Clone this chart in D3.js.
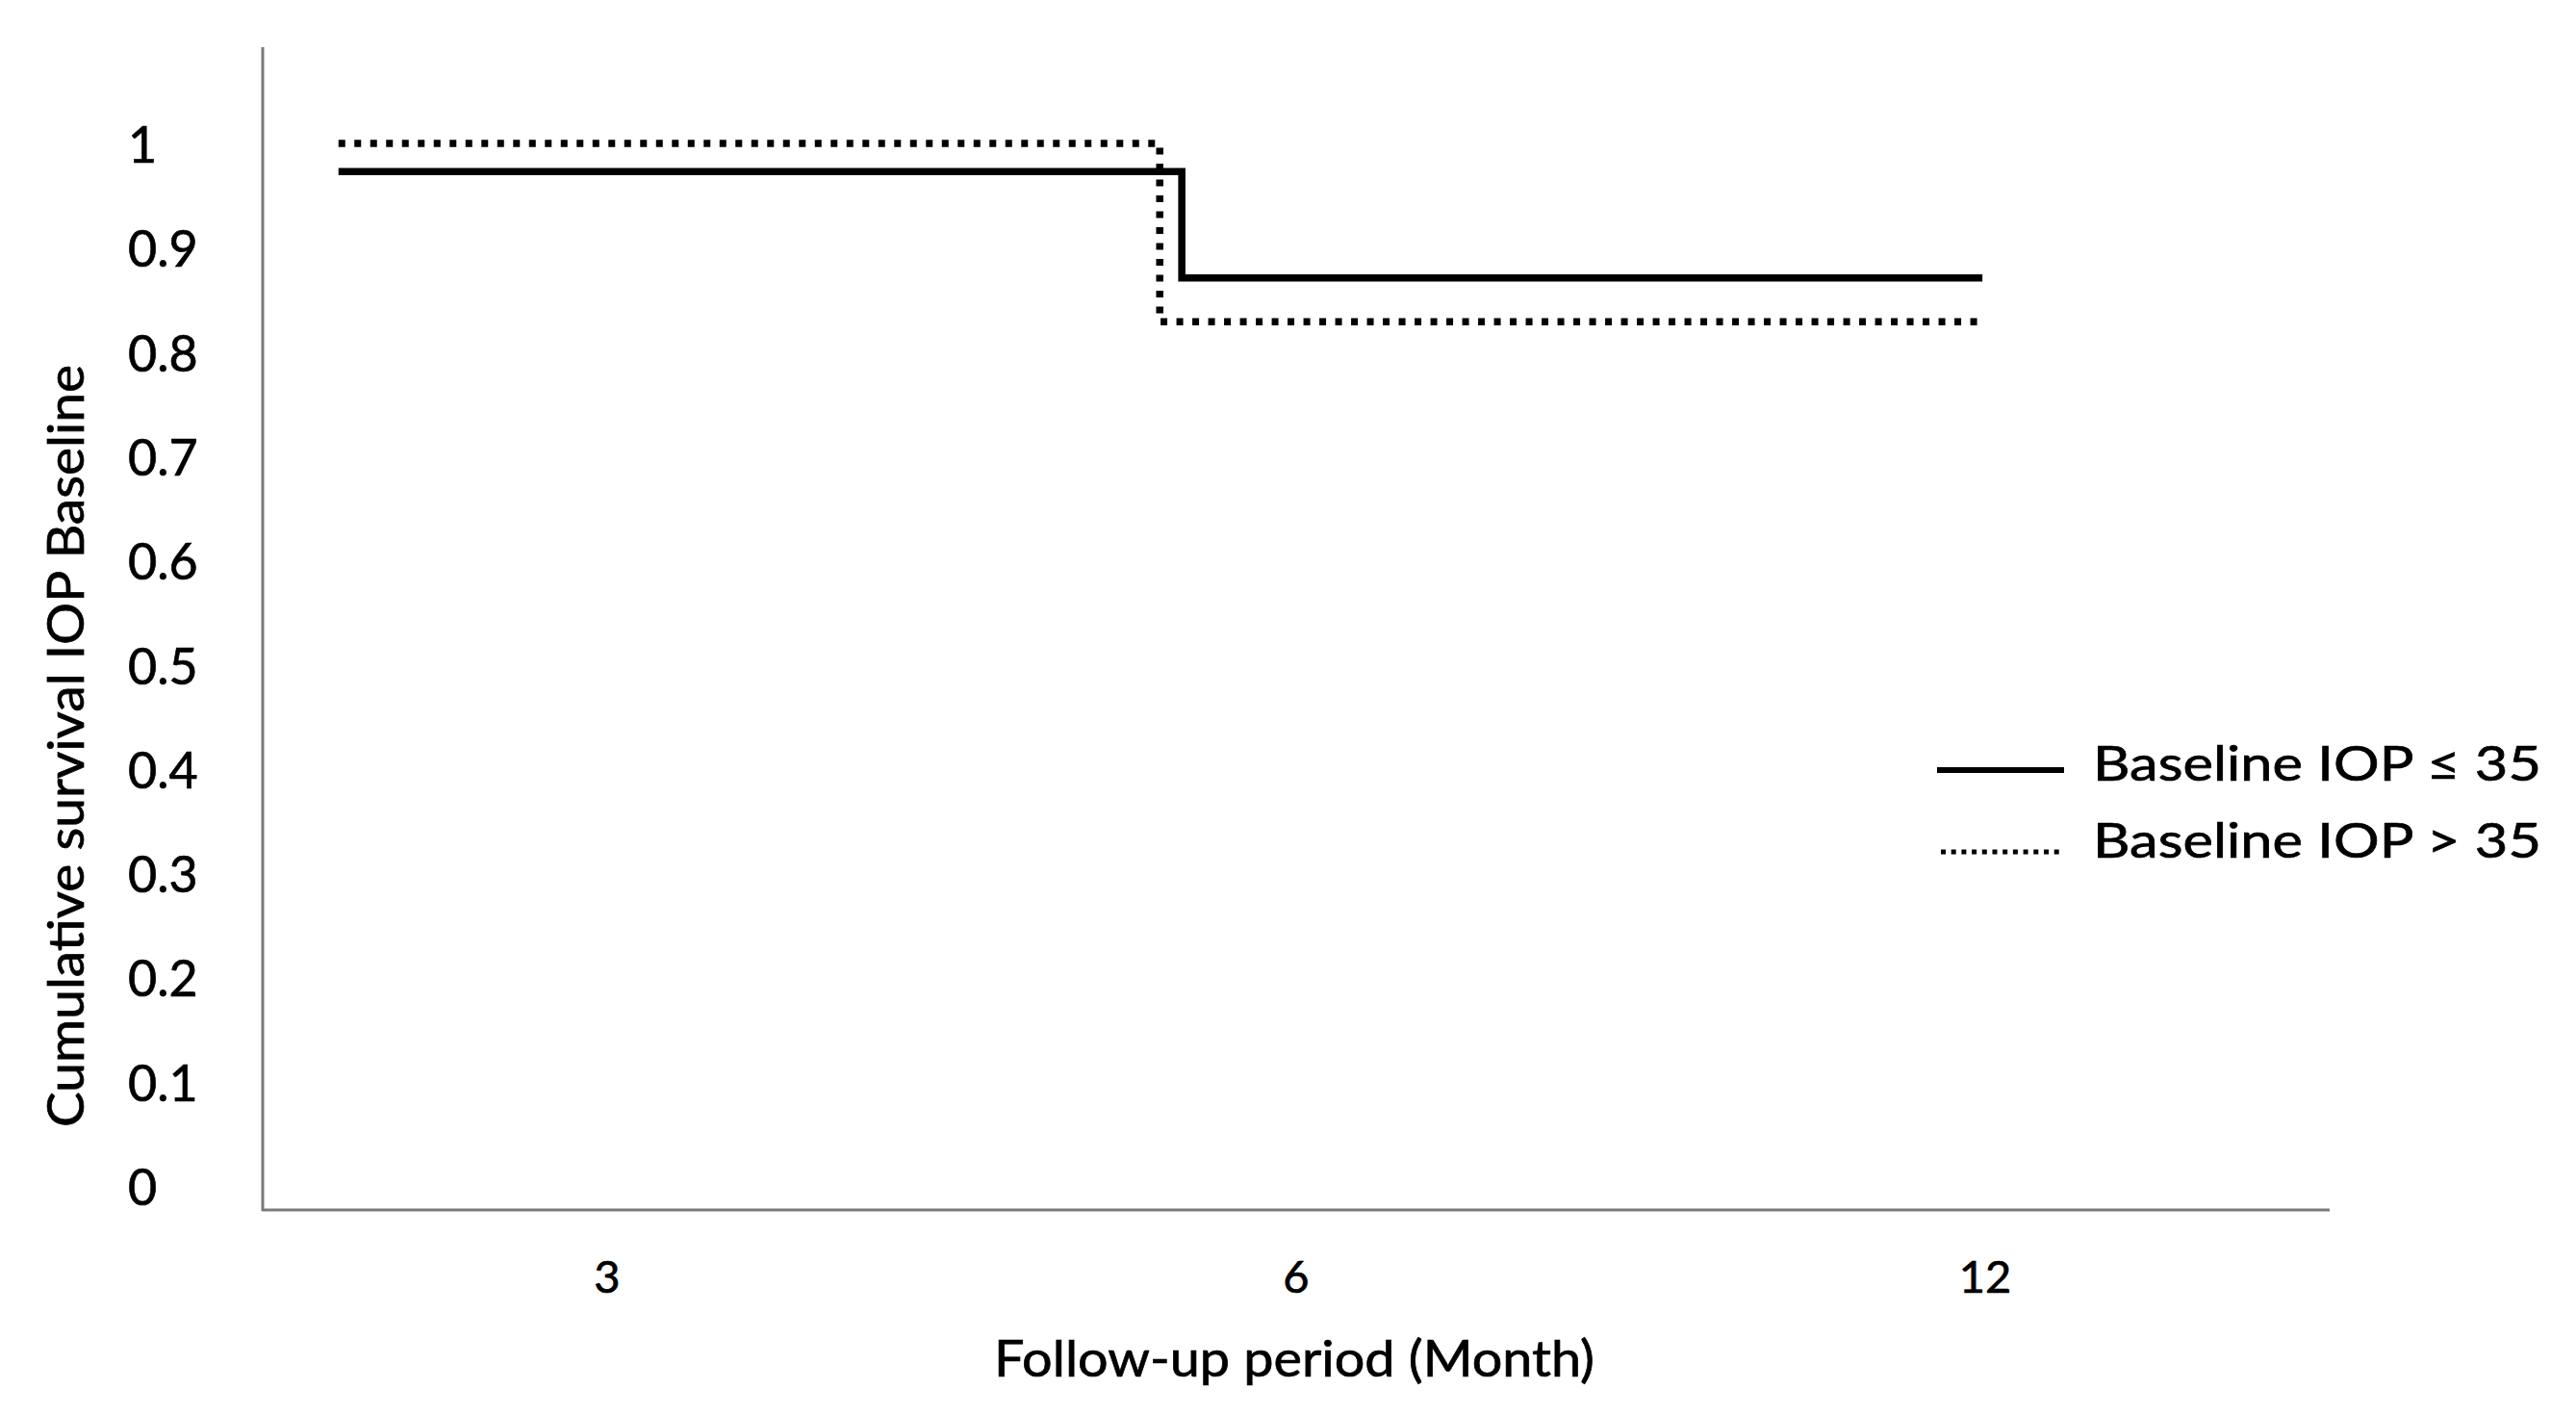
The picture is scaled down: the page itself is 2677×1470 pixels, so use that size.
<!DOCTYPE html>
<html>
<head>
<meta charset="utf-8">
<script src="https://cdn.jsdelivr.net/npm/d3@7"></script>
<style>
  html, body { margin: 0; padding: 0; background: #fff; }
  svg { display: block; }
  text { font-family: Lato, "Open Sans", sans-serif; fill: #000; stroke: #000; stroke-width: 0.7px; }
</style>
</head>
<body>
<svg id="chart" width="2677" height="1470"></svg>
<script>
// ---- data ----
const months = ["3", "6", "12"];
const yTicks = [0, 0.1, 0.2, 0.3, 0.4, 0.5, 0.6, 0.7, 0.8, 0.9, 1];
const yTickLabels = ["0", "0.1", "0.2", "0.3", "0.4", "0.5", "0.6", "0.7", "0.8", "0.9", "1"];
// step curves: position along the category axis (0..3 slots) and survival
const lowTimes = [0.11, 1.334, 2.496];
const lowSurvival = [0.973, 0.871, 0.871];
const highTimes = [0.11, 1.302, 2.496];
const highSurvival = [1.0, 0.829, 0.829];
const seriesNames = ["Baseline IOP \u2264 35", "Baseline IOP > 35"];
const xTitle = "Follow-up period (Month)";
const yTitle = "Cumulative survival IOP Baseline";

// ---- layout ----
const svg = d3.select("#chart");
const plotLeft = 273, plotRight = 2421, plotTop = 49, axisY = 1257;

const xBand = d3.scaleBand().domain(months).range([plotLeft, plotRight]).padding(0);
const xPos = d3.scaleLinear().domain([0, months.length]).range([plotLeft, plotRight]);
const y = d3.scaleLinear().domain([0, 1]).range([1232, 149]);

// axes lines
svg.append("line").attr("x1", plotLeft).attr("x2", plotLeft).attr("y1", plotTop).attr("y2", axisY + 1)
  .attr("stroke", "#7a7a7a").attr("stroke-width", 3);
svg.append("line").attr("x1", plotLeft - 1).attr("x2", plotRight).attr("y1", axisY).attr("y2", axisY)
  .attr("stroke", "#7a7a7a").attr("stroke-width", 3);

// y tick labels
svg.append("g").selectAll("text").data(yTicks).join("text")
  .attr("x", 133).attr("y", d => y(d))
  .attr("dominant-baseline", "central")
  .attr("font-size", 52)
  .text((d, i) => yTickLabels[i]);

// x tick labels
svg.append("g").selectAll("text").data(months).join("text")
  .attr("x", d => xBand(d) + xBand.bandwidth() / 2).attr("y", 1325)
  .attr("text-anchor", "middle").attr("dominant-baseline", "central")
  .attr("font-size", 47)
  .text(d => d);

// axis titles
svg.append("text").attr("x", 1033).attr("y", 1410)
  .attr("dominant-baseline", "central")
  .attr("font-size", 52)
  .attr("textLength", 624).attr("lengthAdjust", "spacingAndGlyphs")
  .text(xTitle);
svg.append("text").attr("transform", "translate(67,1171) rotate(-90)")
  .attr("dominant-baseline", "central")
  .attr("font-size", 52)
  .attr("textLength", 792).attr("lengthAdjust", "spacingAndGlyphs")
  .text(yTitle);

// curves
const step = d3.line().x(d => xPos(d.t)).y(d => y(d.s)).curve(d3.curveStepAfter);
const lowData = lowTimes.map((t, i) => ({ t, s: lowSurvival[i] }));
const highData = highTimes.map((t, i) => ({ t, s: highSurvival[i] }));

svg.append("path").datum(highData).attr("d", step)
  .attr("fill", "none").attr("stroke", "#000").attr("stroke-width", 7.5)
  .attr("stroke-dasharray", "7 9.5");
svg.append("path").datum(lowData).attr("d", step)
  .attr("fill", "none").attr("stroke", "#000").attr("stroke-width", 7.5);

// legend
const legend = svg.append("g");
legend.append("line").attr("x1", 2013).attr("x2", 2145).attr("y1", 800).attr("y2", 800)
  .attr("stroke", "#000").attr("stroke-width", 6);
legend.append("line").attr("x1", 2017).attr("x2", 2145).attr("y1", 885).attr("y2", 885)
  .attr("stroke", "#000").attr("stroke-width", 5).attr("stroke-dasharray", "5 5.7");
legend.selectAll("text").data(seriesNames).join("text")
  .attr("x", 2175).attr("y", (d, i) => [791, 871][i])
  .attr("dominant-baseline", "central")
  .attr("font-size", 51)
  .attr("textLength", 466).attr("lengthAdjust", "spacingAndGlyphs")
  .text(d => d);
</script>
</body>
</html>
